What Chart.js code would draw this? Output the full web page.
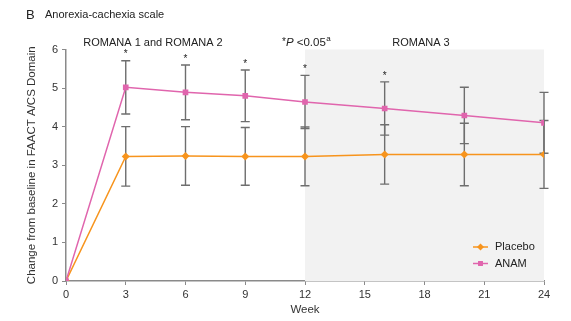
<!DOCTYPE html>
<html>
<head>
<meta charset="utf-8">
<script src="https://cdn.jsdelivr.net/npm/chart.js@4/dist/chart.umd.min.js"></script>
<style>
  html, body { margin: 0; padding: 0; background: #fff; }
  #wrap { width: 571px; height: 321px; position: relative; }
</style>
</head>
<body>
<div id="wrap"><canvas id="chart" width="571" height="321"></canvas></div>
<script>
// data
const weeks = [0, 3, 6, 9, 12, 16, 20, 24];
const placebo = [0, 3.23, 3.24, 3.23, 3.23, 3.28, 3.28, 3.28];
const placeboErr = [0, 0.77, 0.76, 0.75, 0.76, 0.77, 0.81, 0.88];
const anam = [0, 5.02, 4.89, 4.80, 4.64, 4.47, 4.29, 4.10];
const anamErr = [0, 0.69, 0.71, 0.67, 0.69, 0.69, 0.73, 0.79];
const significant = [false, true, true, true, true, true, false, false];
const xTicks = [0, 3, 6, 9, 12, 15, 18, 21, 24];
const yTicks = [0, 1, 2, 3, 4, 5, 6];

const ORANGE = '#f7941d';
const PINK = '#e065ad';
const AXIS = '#8a8a8a';
const FONT = '"Liberation Sans", Arial, sans-serif';

// grey band behind the ROMANA 3 weeks, and the error bars
const backdrop = {
  id: 'backdrop',
  beforeDatasetsDraw(chart) {
    const {ctx, chartArea, scales: {x, y}} = chart;
    ctx.save();
    ctx.fillStyle = '#f2f2f2';
    const x0 = x.getPixelForValue(12), x1 = x.getPixelForValue(24);
    ctx.fillRect(x0, chartArea.top, x1 - x0, chartArea.bottom - chartArea.top);

    ctx.strokeStyle = '#6e6e6e';
    ctx.lineWidth = 1.4;
    [[placebo, placeboErr], [anam, anamErr]].forEach(([vals, errs]) => {
      weeks.forEach((w, i) => {
        if (!errs[i]) return;
        const px = x.getPixelForValue(w);
        const top = y.getPixelForValue(vals[i] + errs[i]);
        const bot = y.getPixelForValue(vals[i] - errs[i]);
        ctx.beginPath();
        ctx.moveTo(px, top); ctx.lineTo(px, bot);
        ctx.moveTo(px - 4.5, top); ctx.lineTo(px + 4.5, top);
        ctx.moveTo(px - 4.5, bot); ctx.lineTo(px + 4.5, bot);
        ctx.stroke();
      });
    });
    ctx.restore();
  }
};

// asterisks, headings, legend
const labels = {
  id: 'labels',
  afterDraw(chart) {
    const {ctx, scales: {x, y}} = chart;
    ctx.save();
    ctx.fillStyle = '#222';
    ctx.textBaseline = 'middle';

    ctx.font = '10px ' + FONT;
    ctx.textAlign = 'center';
    weeks.forEach((w, i) => {
      if (!significant[i]) return;
      ctx.fillText('*', x.getPixelForValue(w), y.getPixelForValue(anam[i] + anamErr[i]) - 6);
    });

    ctx.font = '13px ' + FONT;
    ctx.textAlign = 'left';
    ctx.fillText('B', 26, 15);
    ctx.font = '11px ' + FONT;
    ctx.fillText('Anorexia-cachexia scale', 45, 15);

    ctx.textAlign = 'center';
    ctx.fillText('ROMANA 1 and ROMANA 2', 153, 43);
    ctx.fillText('ROMANA 3', 421, 43);

    // *P <0.05 with superscript a
    ctx.textAlign = 'left';
    let cx = 282;
    ctx.font = '10px ' + FONT;
    ctx.fillText('*', cx, 42); cx += ctx.measureText('*').width;
    ctx.font = 'italic 11.5px ' + FONT;
    ctx.fillText('P', cx, 43); cx += ctx.measureText('P ').width;
    ctx.font = '11.5px ' + FONT;
    ctx.fillText('<0.05', cx, 43); cx += ctx.measureText('<0.05').width + 0.5;
    ctx.font = '8px ' + FONT;
    ctx.fillText('a', cx, 39);

    // legend
    const items = [['Placebo', ORANGE, 'rectRot', 247], ['ANAM', PINK, 'rect', 263.5]];
    items.forEach(([name, col, style, ly]) => {
      ctx.strokeStyle = col;
      ctx.fillStyle = col;
      ctx.lineWidth = 1.5;
      ctx.beginPath();
      ctx.moveTo(473, ly); ctx.lineTo(488, ly);
      ctx.stroke();
      Chart.helpers.drawPoint(ctx, {pointStyle: style, radius: 3.5, borderWidth: 0}, 480.5, ly);
      ctx.fillStyle = '#222';
      ctx.font = '11px ' + FONT;
      ctx.fillText(name, 495, ly);
    });
    ctx.restore();
  }
};

new Chart(document.getElementById('chart'), {
  type: 'line',
  data: {
    datasets: [
      {
        label: 'Placebo',
        data: weeks.map((w, i) => ({x: w, y: placebo[i]})),
        borderColor: ORANGE,
        backgroundColor: ORANGE,
        borderWidth: 1.5,
        pointStyle: 'rectRot',
        pointRadius: 4,
        pointBorderWidth: 0,
        order: 1
      },
      {
        label: 'ANAM',
        data: weeks.map((w, i) => ({x: w, y: anam[i]})),
        borderColor: PINK,
        backgroundColor: PINK,
        borderWidth: 1.5,
        pointStyle: 'rect',
        pointRadius: 4,
        pointBorderWidth: 0,
        order: 0
      }
    ]
  },
  options: {
    responsive: false,
    animation: false,
    layout: { padding: { top: 49.5, right: 27, left: 0, bottom: 0 } },
    plugins: { legend: { display: false }, tooltip: { enabled: false } },
    scales: {
      x: {
        type: 'linear',
        min: 0, max: 24,
        afterBuildTicks: s => { s.ticks = xTicks.map(v => ({value: v})); },
        afterFit: s => { s.height = 40; },
        border: { color: AXIS, width: 1.5 },
        grid: { drawOnChartArea: false, color: AXIS, tickLength: 4 },
        ticks: { color: '#333', font: { family: FONT, size: 11 }, padding: 3, maxRotation: 0 },
        title: { display: true, text: 'Week', color: '#333', font: { family: FONT, size: 11.5 }, padding: { top: 4 } }
      },
      y: {
        min: 0, max: 6,
        afterBuildTicks: s => { s.ticks = yTicks.map(v => ({value: v})); },
        afterFit: s => { s.width = 66; },
        border: { color: AXIS, width: 1.5 },
        grid: { drawOnChartArea: false, color: AXIS, tickLength: 4 },
        ticks: { color: '#333', font: { family: FONT, size: 11 }, padding: 4 },
        title: { display: true, text: 'Change from baseline in FAACT A/CS Domain', color: '#333',
                 font: { family: FONT, size: 11.5 }, padding: { top: 25 } }
      }
    }
  },
  plugins: [backdrop, labels]
});
</script>
</body>
</html>
